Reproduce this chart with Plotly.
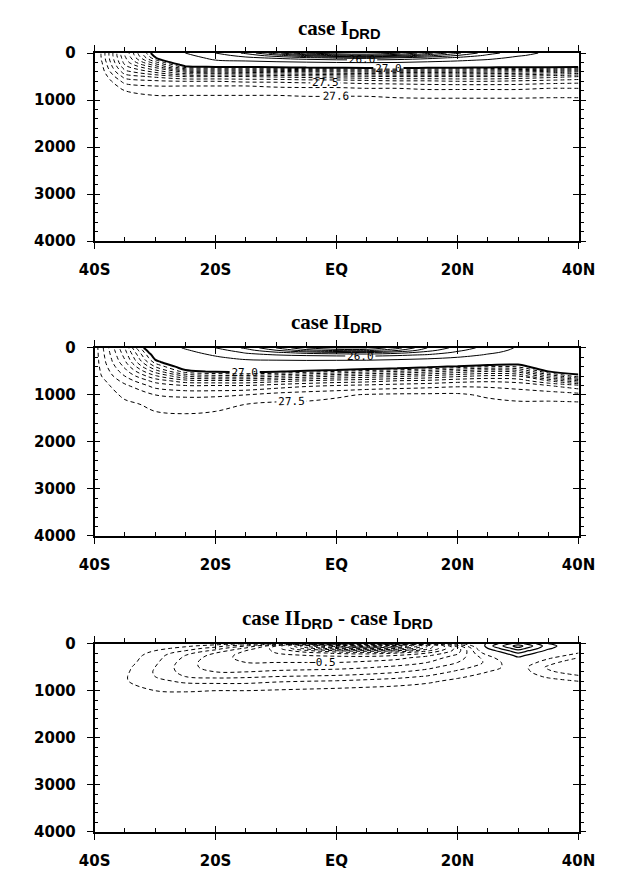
import plotly.graph_objects as go

# ---- grid ---------------------------------------------------------------
lats = [-40, -35, -30, -25, -20, -15, -10, -5, 0, 5, 10, 15, 20, 25, 30, 35, 40]
depths = [0, 50, 100, 150, 200, 250, 300, 400, 500, 600, 700, 800,
          1000, 1200, 1500, 2000, 3000, 4000]

# potential density (sigma-theta), one row per depth level, 40S -> 40N
sigma_case1 = [
    [27.68, 27.30, 26.95, 26.50, 26.00, 25.40, 24.20, 23.00, 22.60, 22.50, 22.90, 23.80, 24.90, 25.80, 26.30, 26.60, 26.70],
    [27.68, 27.30, 26.98, 26.62, 26.20, 25.80, 25.20, 24.40, 23.80, 23.60, 24.00, 24.80, 25.50, 26.10, 26.45, 26.65, 26.72],
    [27.68, 27.31, 27.01, 26.72, 26.36, 26.10, 25.90, 25.60, 25.40, 25.30, 25.50, 25.80, 26.10, 26.35, 26.60, 26.70, 26.75],
    [27.68, 27.32, 27.06, 26.81, 26.50, 26.42, 26.30, 26.20, 26.10, 26.05, 26.15, 26.30, 26.42, 26.55, 26.70, 26.75, 26.80],
    [27.69, 27.33, 27.12, 26.89, 26.68, 26.64, 26.60, 26.55, 26.50, 26.48, 26.50, 26.58, 26.65, 26.72, 26.80, 26.82, 26.85],
    [27.69, 27.35, 27.18, 26.96, 26.86, 26.84, 26.82, 26.80, 26.78, 26.76, 26.77, 26.80, 26.83, 26.87, 26.90, 26.90, 26.92],
    [27.69, 27.37, 27.24, 27.03, 27.02, 27.01, 27.00, 26.98, 26.97, 26.96, 26.96, 26.97, 26.98, 26.99, 27.00, 27.00, 27.01],
    [27.69, 27.42, 27.34, 27.24, 27.24, 27.23, 27.22, 27.21, 27.20, 27.19, 27.18, 27.18, 27.18, 27.19, 27.20, 27.22, 27.25],
    [27.69, 27.48, 27.44, 27.40, 27.40, 27.40, 27.39, 27.38, 27.37, 27.36, 27.35, 27.35, 27.35, 27.35, 27.36, 27.38, 27.40],
    [27.69, 27.53, 27.51, 27.50, 27.50, 27.49, 27.49, 27.48, 27.48, 27.47, 27.46, 27.46, 27.45, 27.45, 27.46, 27.47, 27.48],
    [27.69, 27.57, 27.55, 27.55, 27.55, 27.55, 27.54, 27.54, 27.54, 27.53, 27.53, 27.52, 27.52, 27.52, 27.52, 27.53, 27.53],
    [27.69, 27.60, 27.58, 27.58, 27.58, 27.58, 27.58, 27.57, 27.57, 27.57, 27.57, 27.56, 27.56, 27.56, 27.56, 27.57, 27.57],
    [27.70, 27.63, 27.62, 27.62, 27.62, 27.62, 27.62, 27.62, 27.62, 27.62, 27.61, 27.61, 27.61, 27.61, 27.61, 27.61, 27.61],
    [27.70, 27.64, 27.64, 27.64, 27.64, 27.64, 27.64, 27.64, 27.64, 27.64, 27.64, 27.64, 27.64, 27.64, 27.64, 27.64, 27.64],
    [27.70, 27.65, 27.65, 27.65, 27.65, 27.65, 27.65, 27.65, 27.65, 27.65, 27.65, 27.65, 27.65, 27.65, 27.65, 27.65, 27.65],
    [27.70, 27.66, 27.66, 27.66, 27.66, 27.66, 27.66, 27.66, 27.66, 27.66, 27.66, 27.66, 27.66, 27.66, 27.66, 27.66, 27.66],
    [27.70, 27.68, 27.68, 27.68, 27.68, 27.68, 27.68, 27.68, 27.68, 27.68, 27.68, 27.68, 27.68, 27.68, 27.68, 27.68, 27.68],
    [27.70, 27.70, 27.70, 27.70, 27.70, 27.70, 27.70, 27.70, 27.70, 27.70, 27.70, 27.70, 27.70, 27.70, 27.70, 27.70, 27.70],
]

sigma_case2 = [
    [27.53, 27.25, 26.85, 26.45, 26.00, 25.40, 24.50, 23.50, 23.00, 23.00, 23.80, 25.00, 25.70, 26.20, 26.55, 26.62, 26.65],
    [27.53, 27.26, 26.90, 26.55, 26.20, 25.70, 25.00, 24.20, 23.80, 23.80, 24.40, 25.30, 25.90, 26.30, 26.60, 26.65, 26.67],
    [27.53, 27.27, 26.93, 26.62, 26.35, 25.95, 25.60, 25.30, 25.10, 25.00, 25.30, 25.70, 26.10, 26.42, 26.65, 26.68, 26.70],
    [27.53, 27.28, 26.96, 26.70, 26.45, 26.15, 26.00, 25.90, 25.85, 25.80, 25.90, 26.05, 26.30, 26.55, 26.72, 26.72, 26.73],
    [27.53, 27.29, 26.98, 26.76, 26.55, 26.35, 26.30, 26.25, 26.20, 26.20, 26.25, 26.35, 26.50, 26.66, 26.80, 26.76, 26.76],
    [27.53, 27.30, 27.00, 26.82, 26.65, 26.50, 26.47, 26.45, 26.45, 26.45, 26.50, 26.58, 26.68, 26.78, 26.88, 26.80, 26.80],
    [27.53, 27.31, 27.03, 26.87, 26.73, 26.62, 26.60, 26.60, 26.62, 26.65, 26.70, 26.76, 26.84, 26.90, 26.95, 26.85, 26.84],
    [27.53, 27.34, 27.10, 26.95, 26.88, 26.82, 26.82, 26.85, 26.88, 26.92, 26.95, 26.98, 27.02, 27.05, 27.04, 26.93, 26.90],
    [27.53, 27.37, 27.18, 27.02, 26.99, 26.98, 26.99, 27.02, 27.05, 27.08, 27.10, 27.13, 27.17, 27.20, 27.18, 27.00, 26.96],
    [27.53, 27.40, 27.26, 27.15, 27.12, 27.12, 27.14, 27.17, 27.20, 27.22, 27.24, 27.26, 27.29, 27.31, 27.30, 27.15, 27.02],
    [27.54, 27.43, 27.33, 27.27, 27.26, 27.26, 27.28, 27.30, 27.32, 27.33, 27.35, 27.36, 27.38, 27.39, 27.38, 27.30, 27.20],
    [27.54, 27.46, 27.38, 27.35, 27.35, 27.35, 27.37, 27.39, 27.40, 27.41, 27.42, 27.43, 27.44, 27.44, 27.43, 27.40, 27.36],
    [27.54, 27.49, 27.45, 27.44, 27.44, 27.45, 27.47, 27.48, 27.49, 27.505, 27.51, 27.51, 27.51, 27.49, 27.48, 27.48, 27.47],
    [27.54, 27.51, 27.49, 27.48, 27.49, 27.50, 27.51, 27.51, 27.52, 27.52, 27.52, 27.52, 27.52, 27.52, 27.51, 27.51, 27.51],
    [27.54, 27.52, 27.51, 27.51, 27.51, 27.51, 27.52, 27.52, 27.52, 27.52, 27.52, 27.52, 27.52, 27.52, 27.52, 27.52, 27.52],
    [27.54, 27.53, 27.53, 27.53, 27.53, 27.53, 27.53, 27.53, 27.53, 27.53, 27.53, 27.53, 27.53, 27.53, 27.53, 27.53, 27.53],
    [27.54, 27.54, 27.54, 27.54, 27.54, 27.54, 27.54, 27.54, 27.54, 27.54, 27.54, 27.54, 27.54, 27.54, 27.54, 27.54, 27.54],
    [27.54, 27.54, 27.54, 27.54, 27.54, 27.54, 27.54, 27.54, 27.54, 27.54, 27.54, 27.54, 27.54, 27.54, 27.54, 27.54, 27.54],
]

# case II minus case I
sigma_diff = [
    [0.00, 0.00, 0.00, -0.02, -0.05, -0.10, -0.30, -0.60, -1.00, -1.20, -1.00, -0.60, -0.15, 0.12, 0.35, 0.10, 0.00],
    [0.00, 0.00, -0.02, -0.08, -0.15, -0.30, -0.60, -1.10, -1.50, -1.70, -1.50, -0.90, -0.35, 0.15, 0.45, 0.14, 0.00],
    [0.00, 0.00, -0.06, -0.14, -0.25, -0.42, -0.65, -0.95, -1.20, -1.30, -1.20, -0.85, -0.45, 0.10, 0.36, 0.12, -0.03],
    [0.00, 0.00, -0.10, -0.20, -0.33, -0.50, -0.62, -0.78, -0.90, -0.95, -0.90, -0.72, -0.45, 0.04, 0.27, 0.07, -0.06],
    [0.00, -0.02, -0.13, -0.26, -0.40, -0.53, -0.60, -0.66, -0.72, -0.74, -0.70, -0.60, -0.42, -0.03, 0.20, 0.02, -0.10],
    [0.00, -0.03, -0.15, -0.30, -0.44, -0.54, -0.57, -0.60, -0.62, -0.63, -0.60, -0.52, -0.38, -0.10, 0.14, -0.03, -0.15],
    [0.00, -0.04, -0.16, -0.32, -0.46, -0.53, -0.55, -0.56, -0.56, -0.56, -0.53, -0.46, -0.35, -0.15, 0.08, -0.08, -0.20],
    [0.00, -0.05, -0.18, -0.35, -0.47, -0.50, -0.50, -0.50, -0.50, -0.48, -0.45, -0.40, -0.30, -0.18, 0.00, -0.16, -0.28],
    [0.00, -0.07, -0.20, -0.36, -0.45, -0.46, -0.45, -0.44, -0.43, -0.41, -0.38, -0.33, -0.24, -0.15, -0.04, -0.22, -0.30],
    [0.00, -0.08, -0.21, -0.34, -0.40, -0.40, -0.38, -0.37, -0.36, -0.34, -0.31, -0.26, -0.18, -0.10, -0.04, -0.18, -0.26],
    [0.00, -0.09, -0.20, -0.30, -0.33, -0.32, -0.30, -0.29, -0.28, -0.26, -0.23, -0.19, -0.12, -0.06, -0.02, -0.12, -0.18],
    [0.00, -0.09, -0.17, -0.22, -0.23, -0.23, -0.21, -0.20, -0.19, -0.17, -0.15, -0.12, -0.07, -0.03, 0.00, -0.05, -0.10],
    [0.00, -0.05, -0.10, -0.11, -0.10, -0.10, -0.09, -0.08, -0.07, -0.06, -0.05, -0.03, -0.01, 0.00, 0.00, 0.00, -0.02],
    [0.00, -0.01, -0.03, -0.03, -0.03, -0.03, -0.02, -0.02, -0.01, 0.00, 0.00, 0.00, 0.00, 0.00, 0.00, 0.00, 0.00],
    [0.00, 0.00, 0.00, 0.00, 0.00, 0.00, 0.00, 0.00, 0.00, 0.00, 0.00, 0.00, 0.00, 0.00, 0.00, 0.00, 0.00],
    [0.00, 0.00, 0.00, 0.00, 0.00, 0.00, 0.00, 0.00, 0.00, 0.00, 0.00, 0.00, 0.00, 0.00, 0.00, 0.00, 0.00],
    [0.00, 0.00, 0.00, 0.00, 0.00, 0.00, 0.00, 0.00, 0.00, 0.00, 0.00, 0.00, 0.00, 0.00, 0.00, 0.00, 0.00],
    [0.00, 0.00, 0.00, 0.00, 0.00, 0.00, 0.00, 0.00, 0.00, 0.00, 0.00, 0.00, 0.00, 0.00, 0.00, 0.00, 0.00],
]

lat_ticks = [-40, -20, 0, 20, 40]
lat_labels = ["40S", "20S", "EQ", "20N", "40N"]
depth_ticks = [0, 1000, 2000, 3000, 4000]

# contour levels
light_levels = [22.5, 23.0, 23.5, 24.0, 24.5, 25.0, 25.5, 26.0, 26.5]
dense_levels = [27.05, 27.1, 27.15, 27.2, 27.25, 27.3, 27.35, 27.4, 27.45, 27.5, 27.55, 27.6]
neg_levels = [-2.0, -1.9, -1.8, -1.7, -1.6, -1.5, -1.4, -1.3, -1.2, -1.1, -1.0,
              -0.9, -0.8, -0.7, -0.6, -0.5, -0.4, -0.3, -0.2, -0.1]
pos_levels = [0.1, 0.2, 0.3, 0.4, 0.5, 0.6]
labelled = [{26.0, 27.5, 27.6}, {25.0, 26.0, 27.5}]

SUB = "<span style='font-family:Liberation Sans'><b><sub>DRD</sub></b></span>"
titles = [
    "<b>case I</b>" + SUB,
    "<b>case II</b>" + SUB,
    "<b>case II</b>" + SUB + "<b> - case I</b>" + SUB,
]

# ---- layout geometry (paper fractions) ------------------------------------
W, H = 623, 874
x_dom = [83 / W, 594 / W]
panel_top_px = [45, 346, 648]
panel_h_px = 192
DASH = "4px,3px"

fig = go.Figure()


def add_level(z, level, p, dash=None, width=1.0, label=False):
    fig.add_trace(go.Contour(
        x=lats, y=depths, z=z,
        xaxis="x" if p == 0 else f"x{p + 1}",
        yaxis="y" if p == 0 else f"y{p + 1}",
        autocontour=False,
        contours=dict(start=level, end=level, size=1, coloring="none",
                      showlabels=label,
                      labelfont=dict(family="DejaVu Sans Mono", size=11, color="black"),
                      labelformat=".1f"),
        line=dict(color="black", width=width, dash=dash, smoothing=1.0),
        showscale=False, hoverinfo="skip",
    ))


for p, z in enumerate([sigma_case1, sigma_case2]):
    for lv in light_levels:
        add_level(z, lv, p, width=1.0, label=(lv in labelled[p]))
    add_level(z, 27.0, p, width=2.0, label=True)
    for lv in dense_levels:
        add_level(z, lv, p, dash=DASH, width=1.0, label=(lv in labelled[p]))

for lv in neg_levels:
    add_level(sigma_diff, lv, 2, dash=DASH, width=1.0, label=(lv == -0.5))
for lv in pos_levels:
    add_level(sigma_diff, lv, 2, width=1.2)

tickfont = dict(family="DejaVu Sans", size=15, color="black", weight="bold")
axis_common = dict(showgrid=False, zeroline=False, showline=True,
                   linecolor="black", linewidth=1.6, tickcolor="black",
                   tickwidth=1.3)

# companion axes: (x side, y side, tick direction, tick length, minor spacing?)
companions = [
    ("bottom", "left", "inside", 4, True),
    ("bottom", "left", "inside", 6, False),
    ("top", "right", "outside", 4, True),
    ("top", "right", "outside", 6, False),
    ("top", "right", "inside", 6, False),
]

layout = {}
for p in range(3):
    top = panel_top_px[p]
    y_dom = [1 - (top + panel_h_px) / H, 1 - top / H]
    n = p + 1
    xs = "xaxis" if n == 1 else f"xaxis{n}"
    ys = "yaxis" if n == 1 else f"yaxis{n}"
    xa = "x" if n == 1 else f"x{n}"
    ya = "y" if n == 1 else f"y{n}"
    layout[xs] = dict(axis_common, domain=x_dom, range=[-40, 40], anchor=ya,
                      tickmode="array", tickvals=lat_ticks, ticktext=lat_labels,
                      ticks="outside", ticklen=6, tickfont=tickfont,
                      ticklabelstandoff=8)
    layout[ys] = dict(axis_common, domain=y_dom, range=[4000, 0], anchor=xa,
                      tickmode="array", tickvals=depth_ticks,
                      ticks="outside", ticklen=6, tickfont=tickfont,
                      ticklabelstandoff=8)
    for k, (xside, yside, tdir, tlen, minor) in enumerate(companions):
        m = 4 + len(companions) * p + k
        if minor:
            xt = dict(tickmode="linear", tick0=-40, dtick=5)
            yt = dict(tickmode="linear", tick0=0, dtick=200)
        else:
            xt = dict(tickmode="array", tickvals=lat_ticks)
            yt = dict(tickmode="array", tickvals=depth_ticks)
        layout[f"xaxis{m}"] = dict(axis_common, range=[-40, 40], overlaying=xa,
                                   side=xside, anchor=f"y{m}", showticklabels=False,
                                   ticks=tdir, ticklen=tlen,
                                   tickwidth=1 if minor else 1.3, **xt)
        layout[f"yaxis{m}"] = dict(axis_common, range=[4000, 0], overlaying=ya,
                                   side=yside, anchor=f"x{m}", showticklabels=False,
                                   ticks=tdir, ticklen=tlen,
                                   tickwidth=1 if minor else 1.3, **yt)
        fig.add_trace(go.Scatter(x=[None], y=[None], xaxis=f"x{m}", yaxis=f"y{m}",
                                 showlegend=False, hoverinfo="skip"))

annotations = []
title_x = [342, 338, 340]
for p in range(3):
    annotations.append(dict(
        text=titles[p],
        xref="paper", yref="paper",
        x=title_x[p] / W, y=1 - (panel_top_px[p] - 25) / H,
        xanchor="center", yanchor="middle", showarrow=False,
        font=dict(family="Liberation Serif", size=21, color="black"),
    ))

fig.update_layout(
    width=W, height=H,
    margin=dict(l=0, r=0, t=0, b=0),
    paper_bgcolor="white", plot_bgcolor="white",
    showlegend=False,
    annotations=annotations,
    **layout,
)

fig.write_html("out.html")
